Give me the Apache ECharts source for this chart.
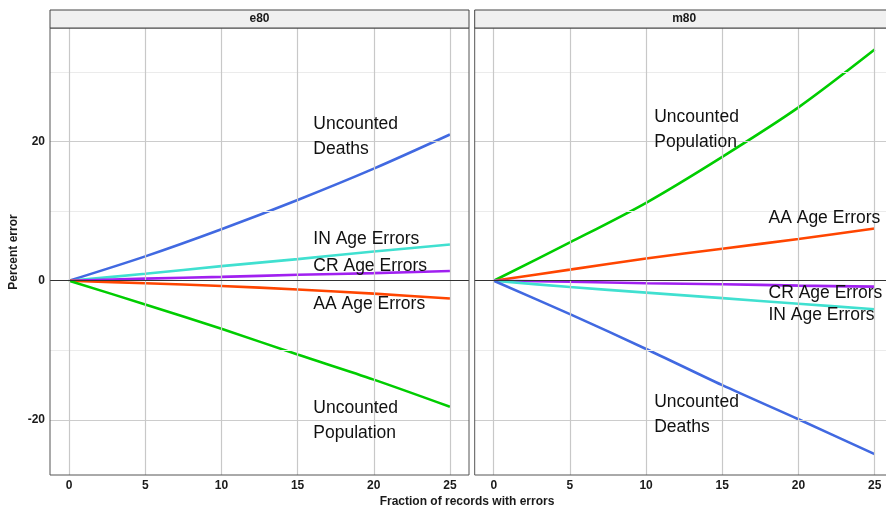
<!DOCTYPE html>
<html>
<head>
<meta charset="utf-8">
<script src="https://cdn.jsdelivr.net/npm/echarts@6/dist/echarts.min.js"></script>
<style>
  html, body { margin: 0; padding: 0; background: #fff; }
  #chart { width: 886px; height: 507px; }
</style>
</head>
<body>
<div id="chart"></div>
<script>
// x values (fraction of records with errors)
const xVals = [0, 5, 10, 15, 20, 25]

// e80 panel
const e80Deaths = [0, 3.5, 7.4, 11.6, 16.1, 21.0]
const e80IN = [0, 1.0, 2.1, 3.1, 4.2, 5.2]
const e80CR = [0, 0.3, 0.55, 0.85, 1.1, 1.4]
const e80AA = [0, -0.35, -0.75, -1.25, -1.85, -2.55]
const e80Pop = [0, -3.4, -6.9, -10.6, -14.2, -18.1]

// m80 panel
const m80Pop = [0, 5.5, 11.2, 17.8, 24.9, 33.2]
const m80AA = [0, 1.6, 3.2, 4.6, 6.0, 7.5]
const m80CR = [0, -0.15, -0.35, -0.5, -0.7, -0.85]
const m80IN = [0, -0.9, -1.7, -2.5, -3.3, -4.1]
const m80Deaths = [0, -4.8, -9.8, -15.0, -19.9, -24.9]

// annotation text + position (data coords)
const e80LabelText = ['Uncounted\nDeaths', 'IN Age Errors', 'CR Age Errors', 'AA Age Errors', 'Uncounted\nPopulation']
const e80LabelX = [16, 16, 16, 16, 16]
const e80LabelY = [20.7, 6.0, 2.1, -3.3, -20.1]
const m80LabelText = ['Uncounted\nPopulation', 'AA Age Errors', 'CR Age Errors', 'IN Age Errors', 'Uncounted\nDeaths']
const m80LabelX = [10.5, 18, 18, 18, 10.5]
const m80LabelY = [21.7, 9.0, -1.8, -5.0, -19.2]

// ticks / grid lines
const xTicks = [0, 5, 10, 15, 20, 25]
const yMajor = [-20, 0, 20]
const yMinor = [-10, 10, 30]

const colors = {
  deaths: '#4169E1',
  inAge: '#40E0D0',
  crAge: '#A020F0',
  aaAge: '#FF4500',
  pop: '#00CD00'
}

const FONT = 'Liberation Sans, Arial, Helvetica, sans-serif'
const X_MIN = -1.25, X_MAX = 26.25
const Y_MIN = -27.9, Y_MAX = 36.3

// panel geometry (px); the right panel is cut off by the canvas edge
const PANEL_W = 419
const P1_LEFT = 50
const P2_LEFT = 474.7
const CANVAS_W = 886
const P2_VISIBLE_W = CANVAS_W - P2_LEFT
// visible part of the right panel's x range
const X_MAX2 = X_MIN + (X_MAX - X_MIN) * P2_VISIBLE_W / PANEL_W

const chart = echarts.init(document.getElementById('chart'))

const pair = (ys) => xVals.map((x, i) => [x, ys[i]])

const lineSeries = (idx, ys, color) => ({
  type: 'line',
  xAxisIndex: idx,
  yAxisIndex: idx,
  data: pair(ys),
  smooth: 0.3,
  showSymbol: false,
  symbol: 'none',
  z: 4,
  lineStyle: { color: color, width: 2.6 },
  animation: false
})

// gridlines drawn as markLines (axis range does not start on a tick)
const gridSeries = (idx) => ({
  type: 'line',
  xAxisIndex: idx,
  yAxisIndex: idx,
  data: [],
  z: 1,
  silent: true,
  animation: false,
  markLine: {
    silent: true,
    symbol: 'none',
    animation: false,
    label: { show: false },
    data: [
      ...yMinor.map(v => ({ yAxis: v, lineStyle: { color: '#ebebeb', width: 1, type: 'solid' } })),
      ...yMajor.map(v => ({ yAxis: v, lineStyle: { color: '#cccccc', width: 1.2, type: 'solid' } })),
      ...xTicks.map(v => ({ xAxis: v, lineStyle: { color: '#c8c8c8', width: 1.2, type: 'solid' } }))
    ]
  }
})

// black reference line at 0
const zeroSeries = (idx) => ({
  type: 'line',
  xAxisIndex: idx,
  yAxisIndex: idx,
  data: [],
  z: 2,
  silent: true,
  animation: false,
  markLine: {
    silent: true,
    symbol: 'none',
    animation: false,
    label: { show: false },
    data: [{ yAxis: 0, lineStyle: { color: '#333333', width: 1.2, type: 'solid' } }]
  }
})

const labelSeries = (idx, texts, xs, ys) => ({
  type: 'scatter',
  xAxisIndex: idx,
  yAxisIndex: idx,
  symbolSize: 1,
  z: 5,
  silent: true,
  animation: false,
  itemStyle: { color: 'rgba(0,0,0,0)', opacity: 1 },
  data: texts.map((t, i) => ({ value: [xs[i], ys[i]], name: t })),
  label: {
    show: true,
    position: 'right',
    distance: 0,
    opacity: 1,
    formatter: p => p.name,
    color: '#111111',
    fontSize: 17.5,
    lineHeight: 25,
    fontFamily: FONT,
    align: 'left'
  }
})

const xAxisCfg = (idx, max) => ({
  gridIndex: idx,
  type: 'value',
  min: X_MIN,
  max: max,
  axisLine: { show: false },
  axisTick: { show: true, customValues: xTicks, length: 3, lineStyle: { color: '#555' } },
  axisLabel: { customValues: xTicks, color: '#1a1a1a', fontWeight: 'bold', fontSize: 12, margin: 5, fontFamily: FONT },
  splitLine: { show: false }
})

const yAxisCfg = (idx, showLabels) => ({
  gridIndex: idx,
  type: 'value',
  min: Y_MIN,
  max: Y_MAX,
  axisLine: { show: false },
  axisTick: { show: showLabels, customValues: yMajor, length: 3, lineStyle: { color: '#555' } },
  axisLabel: { show: showLabels, customValues: yMajor, color: '#1a1a1a', fontWeight: 'bold', fontSize: 12, margin: 5, fontFamily: FONT },
  splitLine: { show: false }
})

const stripRect = (x, w, label) => ([
  {
    type: 'rect',
    shape: { x: x, y: 10, width: w, height: 18 },
    style: { fill: '#f0f0f0', stroke: '#444', lineWidth: 1 },
    z: 10
  },
  {
    type: 'text',
    x: x + w / 2,
    y: 19,
    style: { text: label, fill: '#1a1a1a', font: 'bold 12px ' + FONT, textAlign: 'center', textVerticalAlign: 'middle' },
    z: 11
  }
])

// panel frame (right one is clipped by the canvas)
const panelFrame = (x, w) => ({
  type: 'rect',
  shape: { x: x, y: 28, width: w, height: 507 - 32 - 28 },
  style: { fill: 'none', stroke: '#555', lineWidth: 1 },
  silent: true,
  z: 10
})

chart.setOption({
  animation: false,
  backgroundColor: '#ffffff',
  textStyle: { fontFamily: FONT },
  grid: [
    { left: P1_LEFT, top: 28, width: PANEL_W, bottom: 32, show: true, backgroundColor: '#fff', borderWidth: 0 },
    { left: P2_LEFT, top: 28, width: P2_VISIBLE_W, bottom: 32, show: true, backgroundColor: '#fff', borderWidth: 0 }
  ],
  xAxis: [xAxisCfg(0, X_MAX), xAxisCfg(1, X_MAX2)],
  yAxis: [yAxisCfg(0, true), yAxisCfg(1, false)],
  graphic: [
    panelFrame(P1_LEFT, PANEL_W),
    panelFrame(P2_LEFT, PANEL_W),
    ...stripRect(P1_LEFT, PANEL_W, 'e80'),
    ...stripRect(P2_LEFT, PANEL_W, 'm80'),
    {
      type: 'text',
      x: 467,
      y: 502,
      style: { text: 'Fraction of records with errors', fill: '#1a1a1a', font: 'bold 12px ' + FONT, textAlign: 'center', textVerticalAlign: 'middle' }
    },
    {
      type: 'text',
      x: 14,
      y: 252,
      rotation: Math.PI / 2,
      style: { text: 'Percent error', fill: '#1a1a1a', font: 'bold 12px ' + FONT, textAlign: 'center', textVerticalAlign: 'middle' }
    }
  ],
  series: [
    gridSeries(0),
    gridSeries(1),
    zeroSeries(0),
    zeroSeries(1),
    // e80
    lineSeries(0, e80Deaths, colors.deaths),
    lineSeries(0, e80IN, colors.inAge),
    lineSeries(0, e80CR, colors.crAge),
    lineSeries(0, e80AA, colors.aaAge),
    lineSeries(0, e80Pop, colors.pop),
    // m80
    lineSeries(1, m80Pop, colors.pop),
    lineSeries(1, m80AA, colors.aaAge),
    lineSeries(1, m80CR, colors.crAge),
    lineSeries(1, m80IN, colors.inAge),
    lineSeries(1, m80Deaths, colors.deaths),
    labelSeries(0, e80LabelText, e80LabelX, e80LabelY),
    labelSeries(1, m80LabelText, m80LabelX, m80LabelY)
  ]
})
</script>
</body>
</html>
